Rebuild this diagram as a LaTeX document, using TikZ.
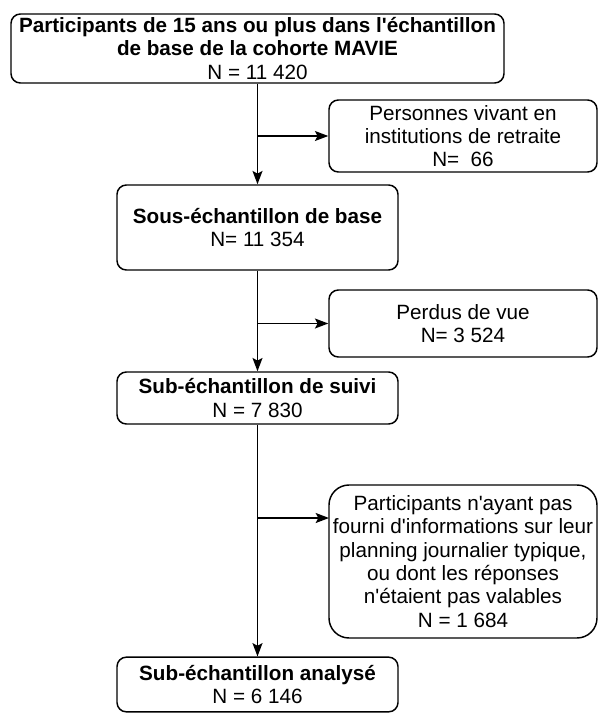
\documentclass[tikz,border=0pt]{standalone}
\usepackage{fontspec}
\setmainfont{Liberation Sans}
\usetikzlibrary{arrows.meta}

\tikzset{
  flowbox/.style={draw, line width=1.1pt, rounded corners=7pt, align=center,
    inner sep=2pt, font=\fontsize{15.5}{17.5}\selectfont},
  mainbox/.style={flowbox, minimum width=210.75pt, minimum height=39pt},
  sidebox/.style={flowbox, minimum width=201pt},
  flowarrow/.style={line width=1.1pt, -{Stealth[length=10pt,width=7.5pt,inset=2pt]}}
}

\begin{document}
\begin{tikzpicture}[x=0.75pt, y=-0.75pt]
\useasboundingbox (0,0) rectangle (606,722);

% main column
\node[flowbox, minimum width=369.75pt, minimum height=51.75pt] (base) at (257.5,48.5)
  {\textbf{Participants de 15 ans ou plus dans l\textquotesingle échantillon}\\
   \textbf{de base de la cohorte MAVIE}\\
   N = 11 420};
\node[mainbox, minimum height=63.75pt] (sous) at (257.5,227.5)
  {\textbf{Sous-échantillon de base}\\N= 11 354};
\node[mainbox] (suivi) at (257.5,398)
  {\textbf{Sub-échantillon de suivi}\\N = 7 830};
\node[mainbox, minimum height=41pt] (analyse) at (257.5,684.5)
  {\textbf{Sub-échantillon analysé}\\N = 6 146};

% exclusions
\node[sidebox, minimum height=54pt] (retraite) at (463,136)
  {Personnes vivant en\\institutions de retraite\\N=\ \ 66};
\node[sidebox, minimum height=50.25pt] (perdus) at (463,323.5)
  {Perdus de vue\\N= 3 524};
\node[sidebox, minimum height=114.75pt, rounded corners=15pt] (invalide) at (463,561.5)
  {Participants n\textquotesingle ayant pas\\fourni d\textquotesingle informations sur leur\\
   planning journalier typique,\\ou dont les réponses\\
   n\textquotesingle étaient pas valables\\N = 1 684};
\coordinate (invalide in) at (329,518);

% connectors
\draw[flowarrow] (sous.north |- base.south) -- (sous.north);
\draw[flowarrow] (sous.south) -- (suivi.north);
\draw[flowarrow] (suivi.south) -- (analyse.north);
\draw[flowarrow] (sous.north |- retraite.west) -- (retraite.west);
\draw[flowarrow] (sous.south |- perdus.west) -- (perdus.west);
\draw[flowarrow] (suivi.south |- invalide in) -- (invalide in);
\end{tikzpicture}
\end{document}
